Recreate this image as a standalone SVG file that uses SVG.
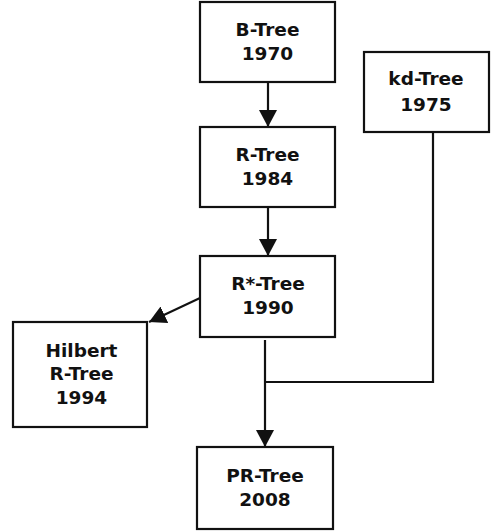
<svg xmlns="http://www.w3.org/2000/svg" width="491" height="531" viewBox="0 0 491 531">
<style>
.box{fill:#fff;stroke:#111;stroke-width:2.2}
.t{font-family:"DejaVu Sans",sans-serif;font-weight:bold;font-size:18.5px;fill:#111;text-anchor:middle}
.c{fill:none;stroke:#111;stroke-width:2.2}
</style>
<defs>
<marker id="ah" markerUnits="userSpaceOnUse" markerWidth="20" markerHeight="20" refX="17" refY="9" orient="auto" viewBox="0 0 20 20">
<path d="M0,0 L17,9 L0,18 z" fill="#111"/>
</marker>
</defs>
<rect width="491" height="531" fill="#fff"/>
<g id="connectors">
<line class="c" x1="268" y1="82" x2="268" y2="127" marker-end="url(#ah)"/>
<line class="c" x1="268" y1="207" x2="268" y2="256" marker-end="url(#ah)"/>
<line class="c" x1="200" y1="298" x2="149" y2="322" marker-end="url(#ah)"/>
<line class="c" x1="265" y1="340" x2="265" y2="447" marker-end="url(#ah)"/>
<polyline class="c" points="433,132 433,382 265,382"/>
</g>
<g id="btree">
<rect class="box" x="200" y="2" width="135" height="80"/>
<text class="t" x="267.5" y="36">B-Tree</text>
<text class="t" x="267.5" y="60">1970</text>
</g>
<g id="kdtree">
<rect class="box" x="364" y="52" width="125" height="80"/>
<text class="t" x="426" y="85">kd-Tree</text>
<text class="t" x="426" y="111">1975</text>
</g>
<g id="rtree">
<rect class="box" x="200" y="127" width="135" height="80"/>
<text class="t" x="267.5" y="161">R-Tree</text>
<text class="t" x="267.5" y="185">1984</text>
</g>
<g id="rstartree">
<rect class="box" x="200" y="256" width="135" height="81"/>
<text class="t" x="268" y="290">R*-Tree</text>
<text class="t" x="268" y="314">1990</text>
</g>
<g id="hilbert">
<rect class="box" x="13" y="322" width="134" height="105"/>
<text class="t" x="81.5" y="357">Hilbert</text>
<text class="t" x="81.5" y="380">R-Tree</text>
<text class="t" x="81.5" y="404">1994</text>
</g>
<g id="prtree">
<rect class="box" x="197" y="447" width="136" height="82"/>
<text class="t" x="265" y="482">PR-Tree</text>
<text class="t" x="265" y="506">2008</text>
</g>
</svg>
